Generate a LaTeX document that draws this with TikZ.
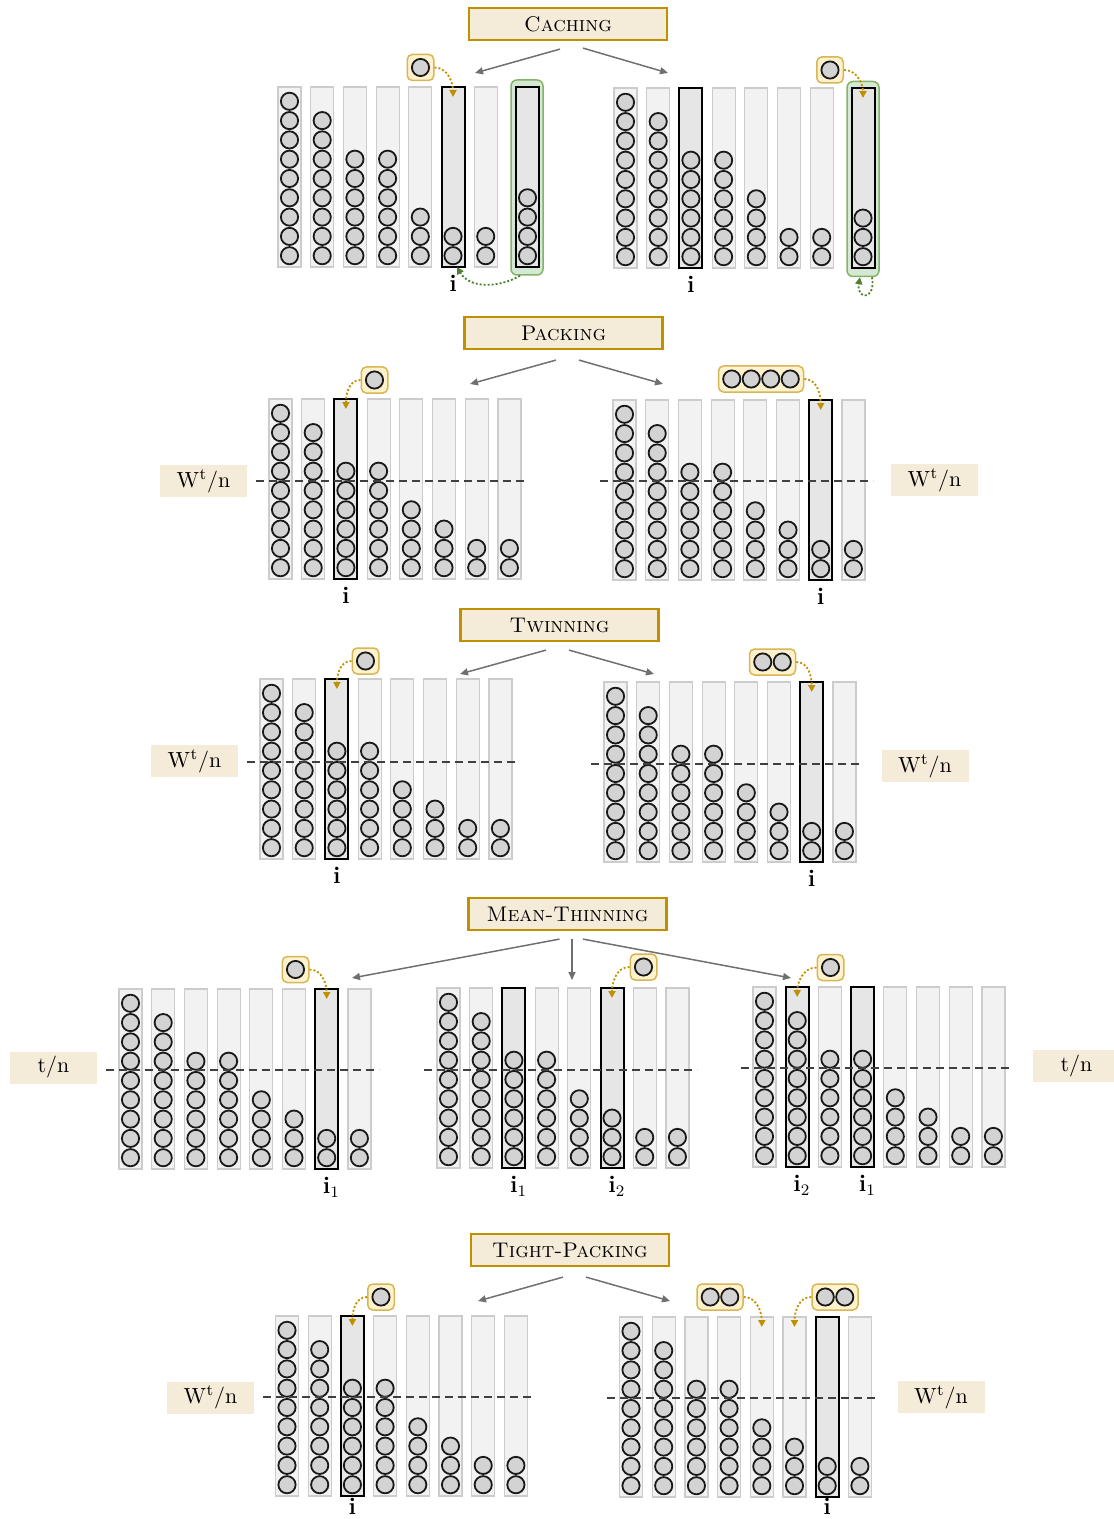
\documentclass[tikz,border=0pt]{standalone}
\usetikzlibrary{positioning}
\usetikzlibrary{calc}
\usetikzlibrary{arrows.meta}
\definecolor{binfill}{HTML}{F2F2F2}
\definecolor{binline}{HTML}{CCCCCC}
\definecolor{hbinfill}{HTML}{E6E6E6}
\definecolor{ballfill}{HTML}{D3D3D3}
\definecolor{beige}{HTML}{F5EBD9}
\definecolor{gold}{HTML}{BF9000}
\definecolor{qfill}{HTML}{FFF2CC}
\definecolor{qline}{HTML}{D6B656}
\definecolor{cfill}{HTML}{D5E8D4}
\definecolor{cline}{HTML}{82B366}
\definecolor{cdark}{HTML}{4F7F2F}
\definecolor{splitgray}{HTML}{707070}

% one row of bins: name, x of first bin, bottom y, list of count/style
\newcommand{\binpanel}[4]{%
  \foreach \n/\s [count=\k] in {#4}{
    \pgfmathsetmacro{\bx}{#2+(\k-1)*32.7}
    \draw[\s] (\bx-11.5,#3) rectangle (\bx+11.5,#3-180);
    \coordinate (#1-\k) at (\bx,#3-180);
    \coordinate (#1-\k-b) at (\bx,#3);
    \foreach \j in {1,...,\n}
      \draw[ball] (\bx,#3-11.3-19.3*\j+19.3) circle (4.3pt);
  }%
}
% box of balls waiting to be placed: name, x, y, number of balls
\newcommand{\queue}[4]{%
  \node[qbox, minimum width=#4*9.75pt+3.5pt] (#1) at (#2,#3) {};
  \foreach \j in {1,...,#4}
    \draw[ball] ($(#1)+({(\j-(#4+1)/2)*19.5},0)$) circle (4.3pt);
}

\begin{document}
\begin{tikzpicture}[x=0.5pt, y=-0.5pt,
    every node/.style={font=\normalsize},
    bin/.style={fill=binfill, draw=binline, line width=0.6pt},
    hbin/.style={fill=hbinfill, draw=black, line width=1pt},
    ball/.style={fill=ballfill, draw=black!90, line width=0.9pt},
    title/.style={draw=gold, fill=beige, line width=1.1pt, minimum width=99pt, minimum height=16pt, inner sep=0pt, font=\fontsize{10.6pt}{12pt}\selectfont\scshape},
    lbl/.style={fill=beige, minimum width=43.5pt, minimum height=16pt, inner sep=0pt, font=\fontsize{10.8pt}{13pt}\selectfont},
    idx/.style={inner sep=0pt, font=\large\bfseries},
    qbox/.style={draw=qline, fill=qfill, rounded corners=2.5pt, line width=0.75pt, minimum height=13pt, inner sep=0pt},
    cachebox/.style={draw=cline, fill=cfill, rounded corners=3pt, line width=0.75pt, minimum width=16pt, minimum height=97.5pt, inner sep=0pt},
    split/.style={draw=splitgray, line width=0.75pt, -{Triangle[length=4pt,width=3.5pt]}},
    drop/.style={draw=gold, line width=0.9pt, dash pattern=on 1pt off 1pt, -{Triangle[length=3.5pt,width=3.5pt]}},
    back/.style={draw=cdark, line width=0.9pt, dash pattern=on 1pt off 1pt, -{Triangle[length=3.5pt,width=3.5pt]}},
    avgline/.style={draw=black!75, line width=0.75pt, dash pattern=on 4pt off 2.5pt}]
    \useasboundingbox (0,0) rectangle (1113,1519);

    % Caching
    \node[title] (caching) at (568,24) {Caching};
    \coordinate (caching-l) at (475,73);
    \coordinate (caching-r) at (668,73);
    \draw[split] ($(caching.south)+(-8,8)$) -- (caching-l);
    \draw[split] ($(caching.south)+(15,7)$) -- (caching-r);

    \node[cachebox] (cl-cache) at (527,177.5) {};
    \binpanel{cl}{289.5}{267}{9/bin,8/bin,6/bin,6/bin,3/bin,2/hbin,2/bin}
    \binpanel{clc}{527.5}{267}{4/hbin}
    \queue{cl-q}{420.5}{67.5}{1}
    \draw[drop] (cl-q.east) to[out=0,in=90] ([yshift=-5pt]cl-6);
    \draw[back] ([xshift=-3.5pt]cl-cache.south) to[out=-150,in=-60] ([xshift=2pt]cl-6-b);
    \node[idx, below=4pt of cl-6-b] (cl-i) {i};

    \node[cachebox] (cr-cache) at (863,179) {};
    \binpanel{cr}{625.5}{268}{9/bin,8/bin,6/hbin,6/bin,4/bin,2/bin,2/bin}
    \binpanel{crc}{863}{268}{3/hbin}
    \queue{cr-q}{830}{70}{1}
    \draw[drop] (cr-q.east) to[out=0,in=90] ([yshift=-5pt]crc-1);
    \draw[back] ([xshift=4.5pt]cr-cache.south) to[out=-80,in=-100,looseness=5] ([xshift=-1.5pt]cr-cache.south);
    \node[idx, below=4pt of cr-3-b] (cr-i) {i};

    % Packing
    \node[title] (packing) at (563.5,333) {Packing};
    \coordinate (packing-l) at (470,384);
    \coordinate (packing-r) at (663,384);
    \draw[split] ($(packing.south)+(-7.5,10)$) -- (packing-l);
    \draw[split] ($(packing.south)+(15.5,10)$) -- (packing-r);

    \binpanel{pl}{280.5}{579}{9/bin,8/bin,6/hbin,6/bin,4/bin,3/bin,2/bin,2/bin}
    \draw[avgline] (256,481) -- (528,481);
    \node[lbl] (pl-w) at (203.5,481) {$\mathrm{W}^{\mathrm{t}}/\mathrm{n}$};
    \queue{pl-q}{374.5}{380}{1}
    \draw[drop] (pl-q.west) to[out=180,in=90] ([yshift=-5pt]pl-3);
    \node[idx, below=4pt of pl-3-b] (pl-i) {i};

    \binpanel{pr}{624.5}{580}{9/bin,8/bin,6/bin,6/bin,4/bin,3/bin,2/hbin,2/bin}
    \draw[avgline] (600,481) -- (873,481);
    \node[lbl] (pr-w) at (934.5,480) {$\mathrm{W}^{\mathrm{t}}/\mathrm{n}$};
    \queue{pr-q}{761}{379}{4}
    \draw[drop] (pr-q.east) to[out=0,in=90] ([yshift=-5pt]pr-7);
    \node[idx, below=4pt of pr-7-b] (pr-i) {i};

    % Twinning
    \node[title] (twinning) at (559.5,625) {Twinning};
    \coordinate (twinning-l) at (460,674);
    \coordinate (twinning-r) at (654,674);
    \draw[split] ($(twinning.south)+(-13.5,8)$) -- (twinning-l);
    \draw[split] ($(twinning.south)+(9.5,8)$) -- (twinning-r);

    \binpanel{tl}{271.5}{859}{9/bin,8/bin,6/hbin,6/bin,4/bin,3/bin,2/bin,2/bin}
    \draw[avgline] (247,762) -- (519,762);
    \node[lbl] (tl-w) at (194.5,761) {$\mathrm{W}^{\mathrm{t}}/\mathrm{n}$};
    \queue{tl-q}{365.5}{661}{1}
    \draw[drop] (tl-q.west) to[out=180,in=90] ([yshift=-5pt]tl-3);
    \node[idx, below=4pt of tl-3-b] (tl-i) {i};

    \binpanel{tr}{615.5}{862}{9/bin,8/bin,6/bin,6/bin,4/bin,3/bin,2/hbin,2/bin}
    \draw[avgline] (591,764) -- (863,764);
    \node[lbl] (tr-w) at (925,766) {$\mathrm{W}^{\mathrm{t}}/\mathrm{n}$};
    \queue{tr-q}{772.5}{662}{2}
    \draw[drop] (tr-q.east) to[out=0,in=90] ([yshift=-5pt]tr-7);
    \node[idx, below=4pt of tr-7-b] (tr-i) {i};

    % Mean-Thinning
    \node[title] (meanthin) at (567.5,914) {Mean-Thinning};
    \coordinate (meanthin-l) at (352,978);
    \coordinate (meanthin-m) at (572,980);
    \coordinate (meanthin-r) at (791,978);
    \draw[split] ($(meanthin.south)+(-8,8)$) -- (meanthin-l);
    \draw[split] ($(meanthin.south)+(4.5,8)$) -- (meanthin-m);
    \draw[split] ($(meanthin.south)+(15.5,8)$) -- (meanthin-r);

    \binpanel{ma}{130.5}{1169}{9/bin,8/bin,6/bin,6/bin,4/bin,3/bin,2/hbin,2/bin}
    \draw[avgline] (106,1070) -- (379,1070);
    \node[lbl] (ma-w) at (53.5,1067.5) {$\mathrm{t}/\mathrm{n}$};
    \queue{ma-q}{295.5}{969.5}{1}
    \draw[drop] (ma-q.east) to[out=0,in=90] ([yshift=-5pt]ma-7);
    \node[idx, below=4pt of ma-7-b] (ma-i) {i\rlap{$_1$}};

    \binpanel{mb}{448.5}{1168}{9/bin,8/bin,6/hbin,6/bin,4/bin,3/hbin,2/bin,2/bin}
    \draw[avgline] (424,1070) -- (697,1070);
    \queue{mb-q}{643.5}{967}{1}
    \draw[drop] (mb-q.west) to[out=180,in=90] ([yshift=-5pt]mb-6);
    \node[idx, below=4pt of mb-3-b] (mb-i1) {i\rlap{$_1$}};
    \node[idx, below=4pt of mb-6-b] (mb-i2) {i\rlap{$_2$}};

    \binpanel{mc}{764.5}{1167}{9/bin,8/hbin,6/bin,6/hbin,4/bin,3/bin,2/bin,2/bin}
    \draw[avgline] (741,1068) -- (1013,1068);
    \node[lbl] (mc-w) at (1076.5,1066) {$\mathrm{t}/\mathrm{n}$};
    \queue{mc-q}{830.5}{967.5}{1}
    \draw[drop] (mc-q.west) to[out=180,in=90] ([yshift=-5pt]mc-2);
    \node[idx, below=4pt of mc-2-b] (mc-i2) {i\rlap{$_2$}};
    \node[idx, below=4pt of mc-4-b] (mc-i1) {i\rlap{$_1$}};

    % Tight-Packing
    \node[title] (tightpack) at (570,1250) {Tight-Packing};
    \coordinate (tightpack-l) at (478,1301);
    \coordinate (tightpack-r) at (670,1301);
    \draw[split] ($(tightpack.south)+(-7,10)$) -- (tightpack-l);
    \draw[split] ($(tightpack.south)+(16,10)$) -- (tightpack-r);

    \binpanel{kl}{287}{1496}{9/bin,8/bin,6/hbin,6/bin,4/bin,3/bin,2/bin,2/bin}
    \draw[avgline] (263,1397) -- (535,1397);
    \node[lbl] (kl-w) at (210.5,1397.5) {$\mathrm{W}^{\mathrm{t}}/\mathrm{n}$};
    \queue{kl-q}{381}{1297}{1}
    \draw[drop] (kl-q.west) to[out=180,in=90] ([yshift=-5pt]kl-3);
    \node[idx, below=1pt of kl-3-b] (kl-i) {i};

    \binpanel{kr}{631}{1497}{9/bin,8/bin,6/bin,6/bin,4/bin,3/bin,2/hbin,2/bin}
    \draw[avgline] (607,1398) -- (879,1398);
    \node[lbl] (kr-w) at (941,1397) {$\mathrm{W}^{\mathrm{t}}/\mathrm{n}$};
    \queue{kr-qa}{720}{1297}{2}
    \queue{kr-qb}{835}{1297}{2}
    \draw[drop] (kr-qa.east) to[out=0,in=90] ([yshift=-5pt]kr-5);
    \draw[drop] (kr-qb.west) to[out=180,in=90] ([yshift=-5pt]kr-6);
    \node[idx, below=0.5pt of kr-7-b] (kr-i) {i};
\end{tikzpicture}
\end{document}
